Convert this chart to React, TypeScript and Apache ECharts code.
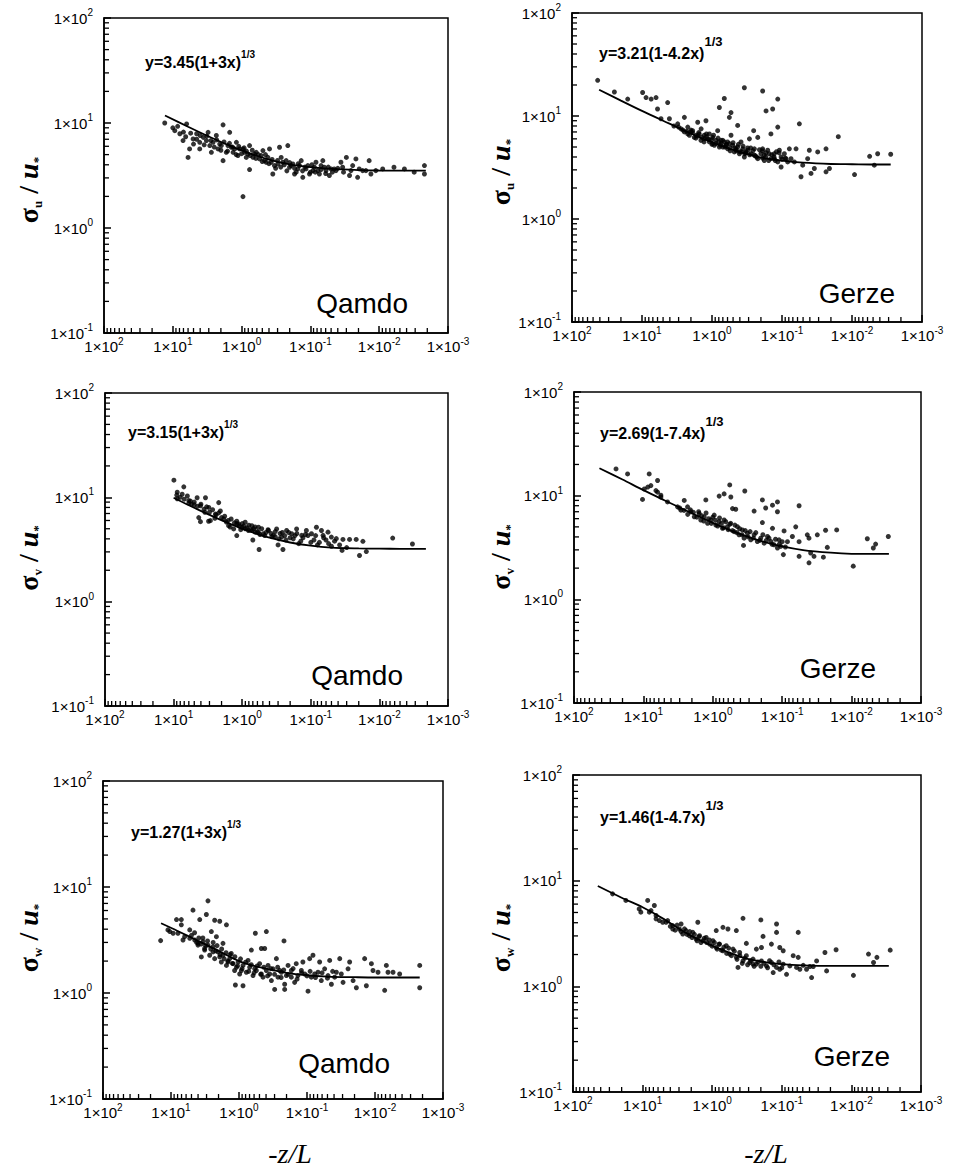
import React, { useEffect, useRef } from "react";
import * as echarts from "echarts";

// ---------- axis ticks ----------
const xTickValues = [100, 10, 1, 0.1, 0.01, 0.001];
const yTickValues = [0.1, 1, 10, 100];
const minorMultipliers = [2, 3, 4, 5, 6, 7, 8, 9];
const xDecades = [0.001, 0.01, 0.1, 1, 10];
const yDecades = [0.1, 1, 10];

// ---------- panel texts ----------
const stations = ["Qamdo", "Gerze", "Qamdo", "Gerze", "Qamdo", "Gerze"];
const components = ["u", "u", "v", "v", "w", "w"];
const equations = [
  "y=3.45(1+3x)",
  "y=3.21(1-4.2x)",
  "y=3.15(1+3x)",
  "y=2.69(1-7.4x)",
  "y=1.27(1+3x)",
  "y=1.46(1-4.7x)",
];
const eqExponent = "1/3";
const xTitle = "-z/L";

// ---------- data: [-z/L, sigma/u*] ----------
const qamdoU = [
  [13.1, 10.0], [9.35, 8.45], [7.9, 7.9], [6.3, 9.8], [7.1, 6.8], [5.7, 5.66], [6.0, 4.7], [4.5, 7.9],
  [4.06, 6.55], [3.6, 7.3], [3.07, 8.15], [2.9, 6.1], [2.75, 5.26], [2.33, 7.6], [2.08, 6.3], [1.86, 9.6],
  [1.86, 4.38], [1.67, 5.26], [1.49, 8.15], [1.41, 5.88], [1.19, 6.55], [1.13, 4.9], [0.955, 5.66],
  [0.855, 4.7], [0.766, 6.1], [0.766, 3.6], [0.955, 1.99], [0.648, 5.07], [0.548, 4.55], [0.49, 5.46],
  [0.439, 4.23], [0.393, 5.66], [0.352, 3.27], [0.333, 3.93], [0.281, 5.88], [0.266, 4.7], [0.213, 6.1],
  [0.225, 4.38], [0.19, 3.93], [0.17, 3.27], [0.152, 3.65], [0.136, 4.38], [0.129, 3.04], [0.109, 3.93],
  [0.092, 3.52], [0.083, 4.23], [0.074, 3.27], [0.066, 4.38], [0.063, 3.79], [0.053, 3.16], [0.045, 3.65],
  [0.036, 4.23], [0.03, 4.7], [0.027, 3.16], [0.0243, 3.93], [0.0218, 4.55], [0.0206, 3.04], [0.0174, 3.52],
  [0.014, 4.38], [0.0132, 3.27], [0.0089, 3.65], [0.0061, 3.79], [0.0043, 3.65], [0.0031, 3.4],
  [0.0022, 3.93], [0.0022, 3.27],
  [5.07, 7.05], [4.06, 5.66], [3.25, 6.8], [2.6, 6.55], [2.2, 5.66], [1.97, 6.1], [1.58, 6.1], [1.33, 5.26],
  [1.26, 5.66], [1.07, 5.66], [0.904, 5.26], [0.81, 5.07], [0.684, 4.71], [0.612, 5.26], [0.519, 4.89],
  [0.464, 4.38], [0.415, 4.71], [0.371, 4.23], [0.297, 4.07], [0.252, 4.23], [0.201, 3.79], [0.18, 4.07],
  [0.161, 3.4], [0.144, 3.93], [0.116, 3.65], [0.103, 3.27], [0.0875, 3.79], [0.0782, 3.52], [0.07, 3.93],
  [0.0593, 3.52], [0.0501, 3.65], [0.0425, 3.52], [0.034, 3.79], [0.0257, 3.52], [0.0195, 3.65],
  [0.0156, 3.52], [0.0112, 3.52],
  [10, 9.0], [8.5, 9.3], [7, 8.2], [6.5, 7.4], [5.5, 8.0], [5, 6.3], [4.5, 7.0], [4, 7.6], [3.5, 6.2],
  [3.2, 7.5], [2.8, 6.8], [2.5, 5.9], [2.3, 6.9], [2.0, 5.5], [1.8, 6.6], [1.6, 5.4], [1.5, 6.4], [1.35, 5.9],
  [1.2, 5.0], [1.1, 6.0], [1.0, 5.1], [0.92, 5.8], [0.85, 5.4], [0.75, 4.9], [0.7, 5.5], [0.62, 4.6],
  [0.57, 5.0], [0.5, 4.3], [0.45, 5.0], [0.4, 4.1], [0.36, 4.5], [0.32, 3.7], [0.3, 4.4], [0.27, 3.8],
  [0.24, 4.0], [0.22, 3.5], [0.2, 4.2], [0.17, 3.7], [0.15, 4.1], [0.13, 3.5], [0.12, 3.8], [0.1, 3.4],
  [0.095, 4.0], [0.085, 3.4], [0.07, 3.6], [0.06, 3.3], [0.055, 3.8], [0.048, 3.4], [0.04, 3.7], [0.033, 3.4],
];
const gerzeU = [
  [43, 22.2], [24.8, 17.1], [16, 14.6], [9.8, 16.9], [8.75, 15.1], [7.4, 14.6], [6.3, 15.1], [6.0, 11.7],
  [4.3, 13.5], [5.35, 9.4], [4.06, 9.4], [3.09, 8.4], [2.48, 9.7], [2.22, 7.8], [2.0, 7.0], [1.6, 8.7],
  [1.69, 6.5], [1.43, 7.5], [1.29, 6.0], [1.22, 9.0], [1.09, 6.7], [0.98, 5.4], [0.83, 7.2], [0.785, 12.1],
  [0.667, 14.8], [0.743, 5.8], [0.63, 5.2], [0.565, 9.7], [0.535, 10.8], [0.535, 6.5], [0.454, 4.8],
  [0.43, 8.1], [0.385, 5.6], [0.345, 18.8], [0.327, 4.5], [0.292, 6.0], [0.254, 7.2], [0.248, 4.16],
  [0.222, 6.2], [0.189, 17.5], [0.189, 4.8], [0.179, 3.7], [0.169, 11.2], [0.152, 4.3], [0.144, 6.7],
  [0.136, 11.7], [0.129, 3.85], [0.115, 14.6], [0.115, 7.8], [0.109, 4.65], [0.103, 3.2], [0.0875, 3.85],
  [0.0785, 4.8], [0.0666, 3.58], [0.063, 4.8], [0.0565, 8.4], [0.0535, 2.57], [0.0506, 3.33], [0.043, 3.85],
  [0.0407, 4.65], [0.0385, 2.77], [0.0345, 3.09], [0.0309, 4.48], [0.0235, 4.8], [0.0235, 2.87],
  [0.021, 3.09], [0.0157, 6.3], [0.0092, 2.7], [0.0056, 4.06], [0.0048, 3.33], [0.0043, 4.3], [0.0028, 4.25],
  [2.77, 7.5], [2.48, 7.0], [2.22, 6.7], [1.89, 7.2], [1.79, 6.2], [1.52, 6.7], [1.44, 5.8], [1.29, 6.5],
  [1.15, 6.0], [1.09, 5.6], [0.98, 6.2], [0.925, 5.2], [0.875, 5.8], [0.785, 5.0], [0.743, 5.4], [0.667, 5.6],
  [0.597, 4.8], [0.565, 5.4], [0.506, 5.2], [0.48, 4.48], [0.43, 5.0], [0.406, 4.3], [0.364, 4.8], [0.345, 4.0],
  [0.309, 4.65], [0.277, 4.3], [0.248, 4.8], [0.222, 3.85], [0.2, 4.3], [0.179, 4.16], [0.16, 4.65],
  [0.144, 3.85], [0.129, 4.3], [0.115, 3.58], [0.103, 4.0], [0.0925, 4.3], [0.083, 3.58], [0.0743, 3.85],
  [2.0, 7.3], [1.6, 6.4], [1.2, 6.3], [1.0, 5.9], [0.8, 5.6], [0.7, 5.0], [0.62, 5.3], [0.55, 4.9], [0.45, 4.6],
  [0.38, 4.5], [0.33, 4.4], [0.28, 4.9], [0.24, 4.1], [0.19, 4.6], [0.17, 4.0], [0.13, 4.0], [0.11, 4.4],
  [3.5, 8.0], [3.0, 7.8], [2.6, 7.3], [2.3, 7.1], [2.1, 6.5], [1.9, 6.9], [1.7, 6.1], [1.55, 6.9], [1.4, 6.2],
  [1.3, 5.6], [1.2, 6.7], [1.1, 5.9], [1.0, 5.3], [0.95, 6.5], [0.88, 5.4], [0.82, 6.1], [0.76, 5.2], [0.7, 5.8],
  [0.65, 5.0], [0.6, 5.6], [0.55, 4.6], [0.5, 5.5], [0.47, 4.9], [0.42, 5.3], [0.4, 4.5], [0.36, 5.1],
  [0.34, 4.3], [0.31, 4.9], [0.29, 4.2], [0.26, 4.6], [0.23, 4.0], [0.21, 4.7], [0.19, 3.9], [0.17, 4.4],
  [0.155, 3.7], [0.14, 4.2], [0.125, 3.7], [0.12, 4.5], [0.1, 3.8], [0.09, 3.9],
];
const qamdoV = [
  [9.9, 14.6], [7.1, 12.6], [8.85, 11.2], [7.5, 10.7], [6.3, 10.3], [8.85, 9.7], [5.67, 9.2], [4.54, 9.9],
  [3.43, 9.9], [4.06, 8.3], [3.07, 8.0], [2.2, 8.9], [2.08, 7.4], [4.3, 6.4], [4.06, 5.85], [2.91, 5.98],
  [2.46, 6.9], [1.86, 6.2], [1.58, 5.35], [1.33, 4.98], [1.13, 5.56], [1.01, 5.17], [0.904, 5.77],
  [0.81, 4.81], [0.724, 5.35], [0.648, 4.64], [0.579, 5.17], [0.49, 4.48], [0.415, 4.81], [0.352, 4.32],
  [0.315, 4.98], [0.266, 4.16], [0.225, 4.81], [0.19, 4.48], [0.161, 4.98], [0.136, 4.32], [0.116, 4.81],
  [0.0977, 4.48], [0.0828, 5.17], [0.07, 4.81], [0.0662, 4.32], [0.0561, 4.64], [0.0501, 4.16],
  [0.0425, 4.02], [0.034, 3.95], [0.0272, 3.95], [0.0218, 3.95], [0.0174, 3.79], [0.0064, 4.07],
  [0.0033, 3.57], [0.567, 3.16], [0.255, 3.16], [0.0195, 2.77], [0.0155, 3.02], [0.035, 3.1], [3.09, 5.9],
  [0.3, 3.5], [0.15, 3.6], [0.08, 3.5], [0.05, 3.4], [0.03, 3.3], [0.7, 3.9], [1.2, 4.3],
  [1.7, 5.8], [1.5, 5.2], [1.2, 5.6], [1.05, 4.9], [0.95, 5.3], [0.85, 5.1], [0.75, 4.9], [0.68, 5.0],
  [0.6, 4.7], [0.55, 4.4], [0.45, 4.6], [0.38, 4.5], [0.33, 4.2], [0.28, 4.5], [0.24, 4.3], [0.2, 4.1],
  [0.17, 4.3], [0.13, 4.1], [0.11, 4.3], [0.09, 3.9], [0.06, 3.9], [2.5, 6.3], [3.5, 7.2], [5, 8.5], [6, 8.8],
  [9, 10.5], [8, 10.0], [7, 9.6], [6, 9.3], [5.5, 8.6], [5, 9.0], [4.5, 8.2], [4, 8.6], [3.6, 7.7], [3.3, 8.1],
  [3, 7.2], [2.7, 7.6], [2.4, 6.8], [2.2, 7.1], [2.0, 6.4], [1.8, 6.6], [1.6, 6.0], [1.45, 6.2], [1.3, 5.7],
  [1.2, 5.9], [1.1, 5.3], [1.0, 5.6], [0.9, 5.0], [0.8, 5.4], [0.72, 4.8], [0.65, 5.2], [0.58, 4.6], [0.52, 5.0],
  [0.47, 4.3], [0.42, 4.9], [0.37, 4.2], [0.33, 4.7], [0.29, 4.0], [0.26, 4.6], [0.23, 3.9], [0.21, 4.6],
  [0.18, 4.0], [0.16, 4.5], [0.14, 3.8], [0.12, 4.4], [0.1, 3.7], [0.085, 4.3], [0.075, 3.7], [0.065, 4.1],
  [0.055, 3.6], [0.045, 3.8], [0.038, 3.5],
];
const gerzeV = [
  [24.8, 18.1], [16.9, 16.2], [8.25, 16.2], [6.25, 14.0], [7.8, 12.5], [9.7, 11.6], [10.3, 9.2],
  [6.25, 10.8], [5.6, 9.7], [2.58, 9.0], [1.26, 9.1], [0.81, 9.9], [0.687, 10.4], [0.57, 12.7], [0.55, 9.7],
  [0.52, 7.5], [0.346, 11.1], [0.467, 7.4], [0.254, 7.1], [0.193, 9.1], [0.173, 7.6], [0.138, 8.1],
  [0.117, 8.7], [0.117, 7.0], [0.0571, 8.0], [0.193, 5.5], [0.138, 4.84], [0.094, 4.57], [0.0841, 3.6],
  [0.0713, 4.04], [0.0638, 5.0], [0.0571, 3.6], [0.0435, 4.19], [0.0411, 3.89], [0.0312, 4.19],
  [0.0237, 4.64], [0.0164, 4.67], [0.0224, 3.17], [0.0389, 2.8], [0.0348, 2.6], [0.0411, 2.25],
  [0.0571, 2.6], [0.0962, 2.7], [0.0255, 2.55], [0.00946, 2.09], [0.00594, 3.84], [0.00487, 3.13],
  [0.00451, 3.41], [0.00296, 4.04], [0.361, 3.31], [0.117, 3.13],
  [8.65, 12.1], [6.6, 11.2], [5.6, 10.1], [4.49, 8.7], [3.22, 7.8],
  [2.07, 6.98], [1.85, 6.25], [1.57, 6.73], [1.49, 5.82], [1.33, 6.25], [1.19, 5.41], [1.07, 5.82],
  [0.955, 6.49], [0.905, 5.21], [0.81, 5.61], [0.726, 4.84], [0.687, 5.82], [0.615, 5.02], [0.551, 5.41],
  [0.493, 4.5], [0.442, 5.02], [0.418, 4.19], [0.374, 4.67], [0.354, 3.89], [0.317, 4.34], [0.284, 3.75],
  [0.254, 4.19], [0.228, 3.61], [0.204, 3.89], [0.182, 3.48], [0.163, 4.04], [0.146, 3.61], [0.131, 3.36],
  [0.111, 3.75], [0.105, 3.24], [2.31, 7.8], [2.88, 7.25],
  [3.0, 7.6], [2.6, 7.2], [2.3, 6.6], [2.1, 7.3], [1.9, 6.9], [1.7, 6.2], [1.6, 7.0], [1.45, 6.4], [1.35, 5.7],
  [1.25, 6.8], [1.15, 6.0], [1.05, 5.4], [1.0, 6.2], [0.92, 5.8], [0.85, 5.1], [0.8, 6.1], [0.75, 5.4],
  [0.7, 4.9], [0.65, 5.6], [0.6, 4.7], [0.57, 5.3], [0.52, 4.6], [0.48, 5.2], [0.45, 4.4], [0.41, 4.8],
  [0.38, 4.2], [0.34, 4.6], [0.31, 4.0], [0.29, 4.5], [0.26, 3.9], [0.24, 4.4], [0.21, 3.7], [0.19, 4.2],
  [0.17, 3.7], [0.155, 3.9], [0.14, 3.4], [0.125, 3.8], [0.11, 3.4], [0.1, 3.6], [0.09, 3.2],
];
const qamdoW = [
  [2.86, 7.4], [4.75, 6.05], [3.02, 5.5], [3.78, 4.93], [2.28, 4.86], [1.92, 4.75], [1.53, 4.4], [8.3, 4.93],
  [7.05, 4.93], [7.05, 4.4], [5.3, 3.94], [14.2, 3.12], [10.4, 3.8], [7.9, 3.66], [6.66, 3.16], [2.55, 3.8],
  [2.15, 3.4], [1.72, 2.94], [4.01, 2.83], [3.2, 2.63], [3.58, 2.19], [2.41, 2.44], [1.92, 2.19],
  [1.45, 1.96], [1.3, 2.36], [1.09, 1.75], [0.923, 1.63], [1.13, 1.19], [0.873, 1.17], [0.736, 2.03],
  [0.658, 2.54], [0.575, 3.66], [0.396, 3.8], [0.469, 2.63], [0.419, 2.63], [0.588, 1.69], [0.469, 1.51],
  [0.374, 1.82], [0.334, 1.31], [0.299, 1.08], [0.282, 2.11], [0.252, 1.63], [0.218, 3.1], [0.213, 1.21],
  [0.213, 1.08], [0.19, 1.82], [0.17, 1.41], [0.152, 1.26], [0.144, 1.89], [0.121, 1.63], [0.115, 1.96],
  [0.0966, 1.04], [0.0914, 2.11], [0.0817, 2.27], [0.0771, 1.51], [0.0652, 1.96], [0.0616, 1.31],
  [0.055, 1.69], [0.0464, 2.03], [0.0438, 1.21], [0.037, 1.57], [0.033, 2.11], [0.0295, 1.26],
  [0.0249, 1.69], [0.0236, 1.96], [0.021, 1.31], [0.0188, 1.12], [0.0142, 2.11], [0.0134, 1.17],
  [0.0113, 1.89], [0.0107, 1.63], [0.00903, 1.57], [0.00681, 1.82], [0.00644, 1.57], [0.00543, 1.57],
  [0.00434, 1.51], [0.00721, 1.06], [0.0022, 1.82], [0.0022, 1.12],
  [11.1, 3.94], [9.3, 3.66], [6.3, 3.4], [5.3, 3.28],
  [4.48, 3.16], [4.01, 2.94], [3.38, 3.05], [3.2, 2.54], [2.86, 2.83], [2.7, 2.27], [2.41, 2.73],
  [2.28, 2.11], [2.04, 2.44], [1.82, 1.96], [1.72, 2.27], [1.53, 1.82], [1.37, 2.11], [1.22, 1.89],
  [1.16, 1.63], [1.03, 1.96], [0.977, 1.51], [0.873, 1.82], [0.78, 1.57], [0.697, 1.75], [0.622, 1.46],
  [0.556, 1.63], [0.497, 1.89], [0.444, 1.41], [0.396, 1.63], [0.354, 1.51], [0.316, 1.69], [0.267, 1.41],
  [0.238, 1.57], [0.201, 1.46], [0.17, 1.63], [0.136, 1.46], [0.108, 1.51], [0.0863, 1.41], [0.0689, 1.57],
  [0.0491, 1.46], [0.0392, 1.41], [0.0313, 1.51],
  [5, 3.5], [4.5, 3.7], [4.2, 3.0], [3.9, 3.3], [3.6, 2.9], [3.4, 3.3], [3.1, 2.8], [2.9, 3.1], [2.6, 2.6],
  [2.4, 3.0], [2.2, 2.5], [2.1, 2.8], [1.9, 2.3], [1.8, 2.6], [1.65, 2.1], [1.55, 2.4], [1.45, 2.0], [1.35, 2.3],
  [1.25, 1.9], [1.15, 2.2], [1.05, 1.8], [0.95, 2.1], [0.9, 1.7], [0.8, 1.95], [0.72, 1.6], [0.66, 1.85],
  [0.6, 1.55], [0.54, 1.8], [0.48, 1.5], [0.43, 1.75], [0.38, 1.45], [0.34, 1.7], [0.3, 1.5], [0.27, 1.75],
  [0.24, 1.4], [0.22, 1.65], [0.19, 1.5], [0.16, 1.7], [0.14, 1.35], [0.12, 1.55], [0.1, 1.45], [0.09, 1.6],
  [0.075, 1.4], [0.06, 1.55], [0.05, 1.38], [0.042, 1.6],
];
const gerzeW = [
  [8.45, 6.5], [6.78, 5.82], [7.57, 5.21], [10.6, 5.03], [6.41, 4.35], [5.14, 4.04], [4.36, 4.19],
  [3.69, 3.49], [2.8, 3.89], [1.61, 4.04], [0.875, 3.37], [0.701, 3.62], [0.594, 3.49], [0.45, 3.37],
  [0.361, 4.4], [0.2, 4.25], [0.119, 3.89], [0.119, 3.24], [0.0581, 3.24], [0.186, 2.97], [0.323, 2.55],
  [0.232, 2.25], [0.196, 2.33], [0.141, 2.51], [0.107, 2.33], [0.0955, 2.17], [0.0686, 1.95],
  [0.0581, 1.88], [0.024, 2.09], [0.0166, 2.22], [0.0316, 1.74], [0.0394, 1.54], [0.0373, 1.21],
  [0.055, 1.45], [0.0227, 1.4], [0.107, 1.45], [0.0855, 1.3], [0.133, 1.35], [0.00935, 1.27],
  [0.00568, 2.02], [0.0043, 1.88], [0.00481, 1.68], [0.00277, 2.2], [0.259, 1.62], [0.426, 1.51],
  [27, 7.5], [17.4, 6.5], [11.2, 5.4], [8.0, 5.03],
  [6.41, 4.68], [5.74, 4.19], [4.6, 4.04], [3.69, 3.76], [2.96, 3.49], [2.65, 3.13], [2.37, 3.37],
  [2.12, 3.01], [1.9, 3.24], [1.7, 2.8], [1.52, 3.01], [1.36, 2.7], [1.22, 2.9], [1.09, 2.51], [0.977, 2.7],
  [0.875, 2.33], [0.783, 2.51], [0.701, 2.17], [0.628, 2.42], [0.562, 2.02], [0.502, 2.25], [0.45, 1.88],
  [0.403, 2.09], [0.361, 1.74], [0.323, 1.95], [0.289, 1.68], [0.259, 1.81], [0.232, 1.62], [0.196, 1.74],
  [0.166, 1.56], [0.141, 1.68], [0.119, 1.51], [0.0955, 1.62], [0.0766, 1.56], [0.0614, 1.51],
  [0.0492, 1.58], [0.0353, 1.54], [0.0441, 1.45],
  [4.0, 3.7], [3.4, 3.4], [3.2, 3.8], [2.8, 3.3], [2.5, 3.5], [2.3, 3.1], [2.1, 3.3], [1.95, 2.9], [1.8, 3.1],
  [1.65, 2.7], [1.55, 2.95], [1.45, 2.6], [1.3, 2.85], [1.2, 2.6], [1.1, 2.75], [1.0, 2.4], [0.93, 2.6],
  [0.85, 2.25], [0.8, 2.5], [0.74, 2.2], [0.68, 2.35], [0.62, 2.05], [0.58, 2.3], [0.53, 1.95], [0.48, 2.15],
  [0.44, 1.8], [0.4, 1.95], [0.37, 1.65], [0.34, 1.85], [0.31, 1.6], [0.28, 1.75], [0.25, 1.55], [0.22, 1.7],
  [0.2, 1.55], [0.18, 1.65], [0.16, 1.5], [0.15, 1.75], [0.13, 1.6], [0.11, 1.7], [0.1, 1.5],
];

// ---------- fitted curves ----------
const fitQamdoU = [
  [13, 11.8], [6, 9.2], [3, 7.43], [1.5, 6.09], [0.8, 5.19], [0.4, 4.49], [0.2, 4.04], [0.1, 3.8],
  [0.05, 3.65], [0.02, 3.56], [0.01, 3.53], [0.005, 3.52], [0.0021, 3.52],
];
const fitGerzeU = [
  [41, 18.0], [20, 14.1], [10, 11.2], [5, 9.0], [2, 6.77], [1, 5.56], [0.5, 4.68], [0.2, 3.95], [0.1, 3.68],
  [0.05, 3.52], [0.02, 3.42], [0.01, 3.4], [0.005, 3.38], [0.0028, 3.38],
];
const fitQamdoV = [
  [10, 9.9], [6, 8.4], [3, 6.8], [1.5, 5.56], [0.8, 4.74], [0.4, 4.1], [0.2, 3.69], [0.1, 3.44], [0.05, 3.3],
  [0.02, 3.24], [0.01, 3.22], [0.005, 3.21], [0.0021, 3.21],
];
const fitGerzeV = [
  [43, 18.4], [20, 14.3], [10, 11.3], [5, 9.04], [2, 6.76], [1, 5.47], [0.5, 4.5], [0.2, 3.64], [0.1, 3.24],
  [0.05, 2.99], [0.02, 2.82], [0.01, 2.75], [0.005, 2.74], [0.0029, 2.74],
];
const fitQamdoW = [
  [14, 4.55], [8, 3.85], [4, 3.1], [2, 2.5], [1, 2.0], [0.5, 1.75], [0.2, 1.55], [0.1, 1.47], [0.05, 1.43],
  [0.02, 1.41], [0.01, 1.4], [0.005, 1.4], [0.0022, 1.4],
];
const fitGerzeW = [
  [44, 8.9], [20, 6.9], [10, 5.6], [5, 4.35], [3, 3.5], [2, 3.0], [1, 2.42], [0.5, 2.02], [0.3, 1.81],
  [0.15, 1.67], [0.1, 1.62], [0.05, 1.58], [0.02, 1.56], [0.01, 1.56], [0.0029, 1.56],
];

const scatterSets = [qamdoU, gerzeU, qamdoV, gerzeV, qamdoW, gerzeW];
const fitSets = [fitQamdoU, fitGerzeU, fitQamdoV, fitGerzeV, fitQamdoW, fitGerzeW];

// ---------- layout (pixels) ----------
const layout = [
  { left: 104, top: 18, width: 344, height: 315, yTitle: [28, 190], eq: [145, 62], eqBig: false, station: [408, 303] },
  { left: 572, top: 13, width: 350, height: 309, yTitle: [500, 172], eq: [599, 53], eqBig: true, station: [895, 293] },
  { left: 105, top: 393, width: 343, height: 313, yTitle: [28, 558], eq: [128, 432], eqBig: false, station: [403, 675] },
  { left: 574, top: 392, width: 347, height: 311, yTitle: [500, 557], eq: [600, 433], eqBig: true, station: [876, 668] },
  { left: 103, top: 781, width: 340, height: 318, yTitle: [28, 938], eq: [131, 832], eqBig: false, station: [390, 1063] },
  { left: 573, top: 775, width: 348, height: 317, yTitle: [500, 938], eq: [600, 817], eqBig: true, station: [890, 1056] },
];
const xTitlePos = [[290, 1153], [766, 1153]];

const SANS = "'Liberation Sans', Arial, Helvetica, sans-serif";
const SERIF = "'Liberation Serif', 'DejaVu Serif', 'Times New Roman', serif";

const tickRich = {
  b: { fontSize: 15, fontFamily: SANS, color: "#000", lineHeight: 21 },
  s: { fontSize: 10, fontFamily: SANS, color: "#000", lineHeight: 10, verticalAlign: "top" },
};
const fmtPow = (v: number) => {
  const e = Math.round(Math.log10(v));
  return `{b|1×10}{s|${e}}`;
};

function buildOption() {
  const minorData: number[][] = [];
  xDecades.forEach((d) => minorMultipliers.forEach((m) => minorData.push([+(m * d).toPrecision(3), 0.1, 0])));
  yDecades.forEach((d) => minorMultipliers.forEach((m) => minorData.push([100, +(m * d).toPrecision(3), 1])));

  const grid = layout.map((l) => ({
    left: l.left, top: l.top, width: l.width, height: l.height,
    show: true, borderColor: "#000", borderWidth: 1.5, backgroundColor: "transparent",
  }));
  const xAxis = layout.map((_, i) => ({
    type: "log", logBase: 10, gridIndex: i, min: 0.001, max: 100, inverse: true,
    axisLine: { show: true, onZero: false, lineStyle: { color: "#000", width: 1.5 } },
    axisTick: { show: true, inside: true, length: 7, lineStyle: { color: "#000", width: 1.5 } },
    axisLabel: { show: true, customValues: xTickValues, margin: 3, fontSize: 15, formatter: fmtPow, rich: tickRich, color: "#000", showMinLabel: true, showMaxLabel: true, hideOverlap: false },
    splitLine: { show: false }, minorTick: { show: false }, minorSplitLine: { show: false },
  }));
  const yAxis = layout.map((_, i) => ({
    type: "log", logBase: 10, gridIndex: i, min: 0.1, max: 100,
    axisLine: { show: true, onZero: false, lineStyle: { color: "#000", width: 1.5 } },
    axisTick: { show: true, inside: true, length: 7, lineStyle: { color: "#000", width: 1.5 } },
    axisLabel: { show: true, customValues: yTickValues, margin: 11, fontSize: 15, formatter: fmtPow, rich: tickRich, color: "#000", showMinLabel: true, showMaxLabel: true, hideOverlap: false },
    splitLine: { show: false }, minorTick: { show: false }, minorSplitLine: { show: false },
  }));

  const series: any[] = [];
  layout.forEach((_, i) => {
    series.push({
      type: "scatter", xAxisIndex: i, yAxisIndex: i, data: scatterSets[i],
      symbol: "circle", symbolSize: 5, itemStyle: { color: "#000" }, silent: true,
    });
    series.push({
      type: "line", xAxisIndex: i, yAxisIndex: i, data: fitSets[i], showSymbol: false,
      smooth: 0.3, lineStyle: { color: "#000", width: 1.8 }, silent: true,
    });
    series.push({
      type: "custom", xAxisIndex: i, yAxisIndex: i, data: minorData, silent: true, clip: false,
      dimensions: ["x", "y", "dir"],
      encode: { x: 0, y: 1 },
      renderItem: (params: any, api: any) => {
        const p = api.coord([api.value(0), api.value(1)]);
        const dir = api.value(2);
        const shape = dir === 0
          ? { x1: p[0], y1: p[1], x2: p[0], y2: p[1] - 5 }
          : { x1: p[0], y1: p[1], x2: p[0] + 5, y2: p[1] };
        return { type: "line", shape, style: { stroke: "#000", lineWidth: 1.3 } };
      },
    });
  });

  const elements: any[] = [];
  layout.forEach((l, i) => {
    elements.push({
      type: "text", x: l.yTitle[0], y: l.yTitle[1], rotation: Math.PI / 2,
      style: {
        text: `{g|σ}{sb|${components[i]}}{g| / }{u|u}{sb|*}`,
        align: "center", verticalAlign: "middle", textAlign: "center", textVerticalAlign: "middle",
        fill: "#000",
        rich: {
          g: { fontFamily: SERIF, fontWeight: "bold", fontSize: 28, lineHeight: 32, fill: "#000" },
          u: { fontFamily: SERIF, fontWeight: "bold", fontStyle: "italic", fontSize: 28, lineHeight: 32, fill: "#000" },
          sb: { fontFamily: SERIF, fontWeight: "bold", fontSize: 13, lineHeight: 13, verticalAlign: "bottom", fill: "#000" },
        },
      },
    });
    elements.push({
      type: "text", x: l.eq[0], y: l.eq[1],
      style: {
        text: `{e|${equations[i]}}{p|${eqExponent}}`,
        align: "left", verticalAlign: "middle", textAlign: "left", textVerticalAlign: "middle",
        fill: "#000",
        rich: l.eqBig
          ? {
              e: { fontFamily: SANS, fontWeight: "bold", fontSize: 16, lineHeight: 36, fill: "#000" },
              p: { fontFamily: SANS, fontWeight: "bold", fontSize: 13, lineHeight: 13, verticalAlign: "top", fill: "#000" },
            }
          : {
              e: { fontFamily: SANS, fontWeight: "bold", fontSize: 16, lineHeight: 26, fill: "#000" },
              p: { fontFamily: SANS, fontWeight: "bold", fontSize: 10, lineHeight: 10, verticalAlign: "top", fill: "#000" },
            },
      },
    });
    elements.push({
      type: "text", x: l.station[0], y: l.station[1],
      style: {
        text: stations[i], fontFamily: SANS, fontSize: 28, fill: "#000",
        align: "right", verticalAlign: "middle", textAlign: "right", textVerticalAlign: "middle",
      },
    });
  });
  xTitlePos.forEach((p) => {
    elements.push({
      type: "text", x: p[0], y: p[1],
      style: {
        text: xTitle, fontFamily: SERIF, fontStyle: "italic", fontSize: 28, fill: "#000",
        align: "center", verticalAlign: "middle", textAlign: "center", textVerticalAlign: "middle",
      },
    });
  });

  return {
    animation: false,
    backgroundColor: "#fff",
    grid, xAxis, yAxis, series,
    graphic: { elements },
  };
}

export default function App() {
  const ref = useRef<HTMLDivElement>(null);
  useEffect(() => {
    if (!ref.current) return;
    const chart = echarts.init(ref.current, null, { renderer: "svg" });
    chart.setOption(buildOption() as any);
    return () => chart.dispose();
  }, []);
  return (
    <div
      ref={ref}
      style={{ position: "absolute", left: 0, top: 0, width: 956, height: 1172, background: "#fff" }}
    />
  );
}
